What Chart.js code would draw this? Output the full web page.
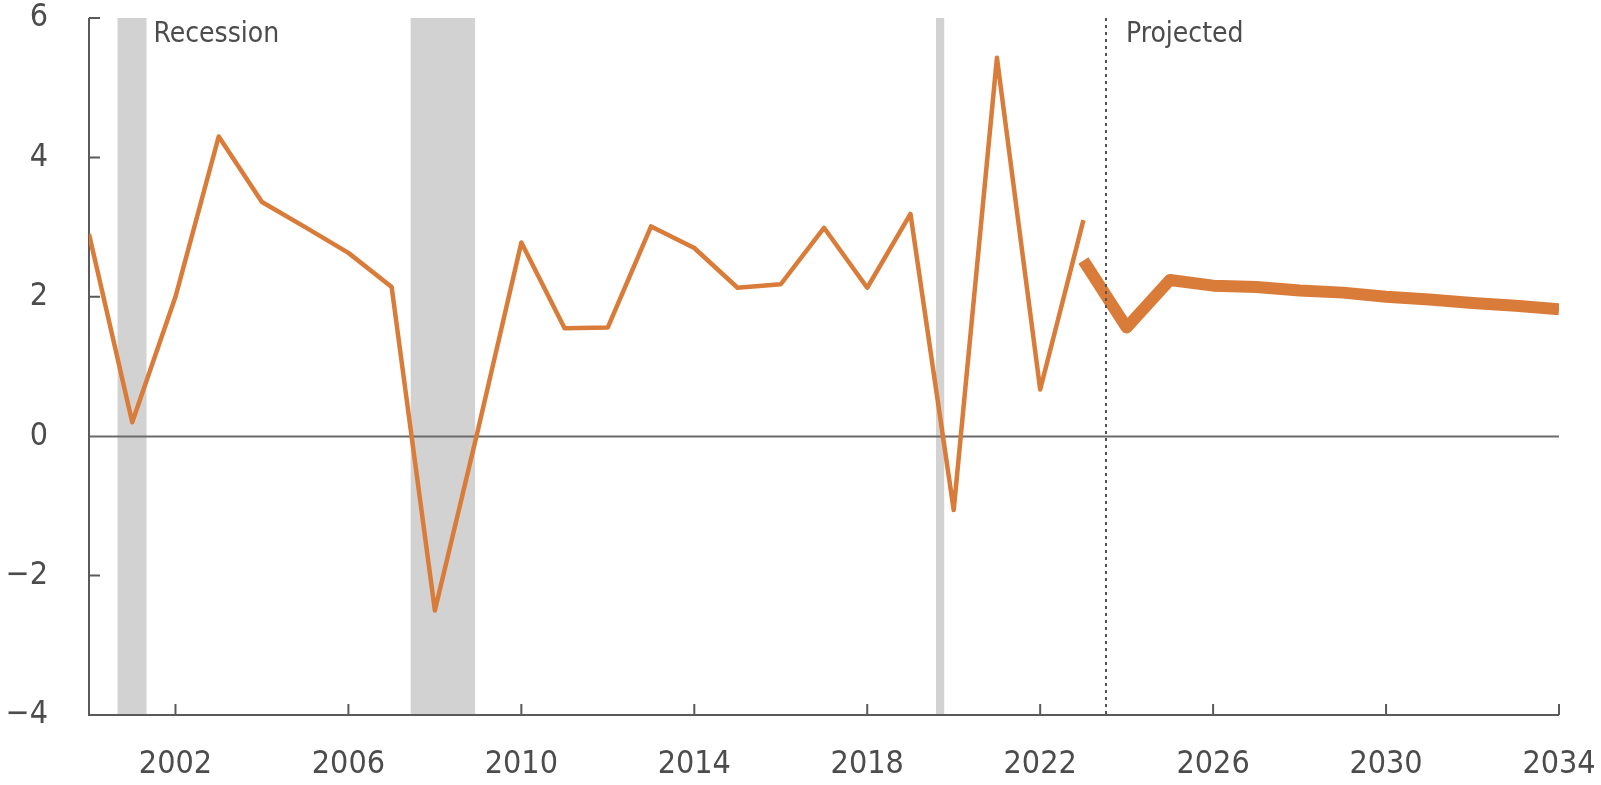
<!DOCTYPE html>
<html>
<head>
<meta charset="utf-8">
<script src="https://cdn.jsdelivr.net/npm/chart.js@4/dist/chart.umd.min.js"></script>
<style>
  html, body { margin: 0; padding: 0; background: #ffffff; }
  #wrap { width: 1601px; height: 785px; position: relative; }
</style>
</head>
<body>
<div id="wrap"><canvas id="c" width="1601" height="785"></canvas></div>
<script>
// ---- data ----
const histYears = [2000,2001,2002,2003,2004,2005,2006,2007,2008,2009,2010,2011,2012,2013,2014,2015,2016,2017,2018,2019,2020,2021,2022,2023];
const histValues = [2.9,0.2,2.0,4.3,3.36,3.0,2.63,2.14,-2.5,0.1,2.78,1.55,1.56,3.01,2.7,2.13,2.18,2.99,2.13,3.19,-1.06,5.43,0.67,3.1];
const projYears = [2023,2024,2025,2026,2027,2028,2029,2030,2031,2032,2033,2034];
const projValues = [2.52,1.56,2.24,2.16,2.14,2.09,2.06,2.0,1.96,1.91,1.87,1.82];
const recessionStart = [2000.66, 2007.44, 2019.59];
const recessionEnd = [2001.33, 2008.93, 2019.78];
const projectionStart = 2023.52;
const xTickLabels = [2002,2006,2010,2014,2018,2022,2026,2030,2034];
const yTickLabels = [-4,-2,0,2,4,6];

const FONT = '"Liberation Sans Narrow", "DejaVu Sans Condensed", "Roboto", sans-serif';
const TXT = '#4c4c4c';
const AXIS = '#5a5a5a';
const ORANGE = '#d97b39';

const toPts = (xs, ys) => xs.map((x, i) => ({ x: x, y: ys[i] }));

const noPad = (scale) => {
  scale.paddingTop = 0; scale.paddingBottom = 0;
  scale.paddingLeft = 0; scale.paddingRight = 0;
};

const decor = {
  id: 'decor',
  beforeDatasetsDraw(chart) {
    const { ctx, chartArea: a, scales: { x, y } } = chart;
    ctx.save();
    ctx.fillStyle = '#d2d2d2';
    for (let i = 0; i < recessionStart.length; i++) {
      const x0 = x.getPixelForValue(recessionStart[i]);
      const x1 = x.getPixelForValue(recessionEnd[i]);
      ctx.fillRect(x0, a.top, x1 - x0, a.bottom - a.top);
    }
    const y0 = Math.round(y.getPixelForValue(0)) + 0.5;
    ctx.strokeStyle = '#6a6a6a';
    ctx.lineWidth = 2;
    ctx.beginPath();
    ctx.moveTo(a.left, y0);
    ctx.lineTo(a.right, y0);
    ctx.stroke();
    ctx.strokeStyle = AXIS;
    ctx.lineWidth = 2;
    ctx.beginPath();
    ctx.moveTo(a.left, a.top);
    ctx.lineTo(a.left, a.bottom);
    ctx.lineTo(a.right, a.bottom);
    ctx.stroke();
    ctx.beginPath();
    yTickLabels.forEach(v => {
      if (v === 0 || v === -4) return;
      const py = y.getPixelForValue(v);
      ctx.moveTo(a.left, py);
      ctx.lineTo(a.left + 11, py);
    });
    xTickLabels.forEach(v => {
      const px = x.getPixelForValue(v);
      ctx.moveTo(px, a.bottom);
      ctx.lineTo(px, a.bottom - 11);
    });
    ctx.stroke();
    ctx.restore();
  },
  afterDatasetsDraw(chart) {
    const { ctx, chartArea: a, scales: { x } } = chart;
    ctx.save();
    const px = Math.round(x.getPixelForValue(projectionStart));
    ctx.strokeStyle = '#555555';
    ctx.lineWidth = 2;
    ctx.setLineDash([3, 4]);
    ctx.beginPath();
    ctx.moveTo(px, a.top);
    ctx.lineTo(px, a.bottom);
    ctx.stroke();
    ctx.setLineDash([]);
    ctx.fillStyle = TXT;
    ctx.font = '28px ' + FONT;
    ctx.textBaseline = 'alphabetic';
    ctx.textAlign = 'left';
    ctx.fillText('Recession', x.getPixelForValue(recessionEnd[0]) + 7, 42);
    ctx.fillText('Projected', px + 20, 42);
    ctx.restore();
  }
};

new Chart(document.getElementById('c'), {
  type: 'line',
  data: {
    datasets: [
      {
        data: toPts(histYears, histValues),
        borderColor: ORANGE,
        borderWidth: 4.5,
        pointRadius: 0,
        tension: 0,
        borderJoinStyle: 'round',
        borderCapStyle: 'butt'
      },
      {
        data: toPts(projYears, projValues),
        borderColor: ORANGE,
        borderWidth: 12,
        pointRadius: 0,
        tension: 0,
        borderJoinStyle: 'round',
        borderCapStyle: 'butt'
      }
    ]
  },
  options: {
    responsive: false,
    animation: false,
    events: [],
    layout: { padding: { top: 18, right: 42, left: 0, bottom: 0 } },
    plugins: { legend: { display: false }, tooltip: { enabled: false } },
    scales: {
      x: {
        type: 'linear',
        min: 2000,
        max: 2034,
        border: { display: false },
        grid: { display: false, drawTicks: false },
        afterBuildTicks(scale) { scale.ticks = xTickLabels.map(v => ({ value: v })); },
        afterFit(scale) { scale.height = 70; noPad(scale); },
        ticks: {
          padding: 30,
          color: TXT,
          font: { family: FONT, size: 32 },
          maxRotation: 0,
          autoSkip: false,
          callback: v => String(v)
        }
      },
      y: {
        min: -4,
        max: 6,
        border: { display: false },
        grid: { display: false, drawTicks: false },
        afterBuildTicks(scale) { scale.ticks = yTickLabels.map(v => ({ value: v })); },
        afterFit(scale) { scale.width = 89; noPad(scale); },
        ticks: {
          padding: 41,
          color: TXT,
          font: { family: FONT, size: 32 },
          callback: v => (v < 0 ? '\u2212' + Math.abs(v) : String(v))
        }
      }
    }
  },
  plugins: [decor]
});
</script>
</body>
</html>
